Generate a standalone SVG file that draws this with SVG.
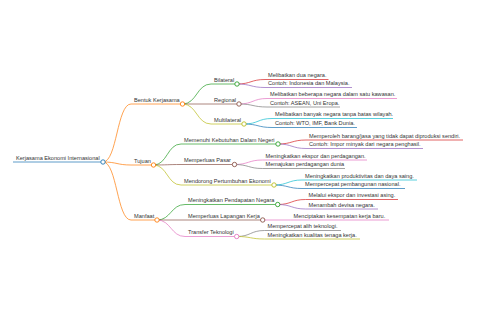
<svg xmlns="http://www.w3.org/2000/svg" width="480" height="320" viewBox="0 0 480 320">
<style>
text{font-family:"Liberation Sans",Arial,sans-serif;font-size:5.6px;fill:#333}
.l{fill:none;stroke-width:0.9;stroke-opacity:0.8}
.u{stroke-width:0.9;stroke-opacity:0.8}
circle{fill:#fff;stroke-width:0.9}
.c0{stroke:#1f77b4}.c1{stroke:#ff7f0e}.c2{stroke:#2ca02c}.c3{stroke:#d62728}.c4{stroke:#9467bd}
.c5{stroke:#8c564b}.c6{stroke:#e377c2}.c7{stroke:#7f7f7f}.c8{stroke:#bcbd22}.c9{stroke:#17becf}
</style>
<rect width="480" height="320" fill="#fff"/>
<g id="connectors">
<path class="l c1" d="M103,162 C117,162 117,104 131,104"/>
<path class="l c1" d="M103,162 C117,162 117,165 131,165"/>
<path class="l c1" d="M103,162 C117,162 117,220 131,220"/>
<path class="l c2" d="M182.5,104 C196.8,104 196.8,84 211,84"/>
<path class="l c5" d="M182.5,104 L211,104"/>
<path class="l c8" d="M182.5,104 C196.8,104 196.8,124 211,124"/>
<path class="l c3" d="M237,84 C251,84 251,79.5 265,79.5"/>
<path class="l c4" d="M237,84 C251,84 251,87.5 265,87.5"/>
<path class="l c6" d="M239,104 C253,104 253,98.5 267,98.5"/>
<path class="l c7" d="M239,104 C253,104 253,107 267,107"/>
<path class="l c9" d="M244,124 C258,124 258,118.5 272,118.5"/>
<path class="l c0" d="M244,124 C258,124 258,127.5 272,127.5"/>
<path class="l c2" d="M153.5,165 C167.3,165 167.3,144 181,144"/>
<path class="l c5" d="M153.5,165 C167.3,165 167.3,164.5 181,164.5"/>
<path class="l c8" d="M153.5,165 C167.3,165 167.3,185 181,185"/>
<path class="l c3" d="M278,144 C292,144 292,140 306,140"/>
<path class="l c4" d="M278,144 C292,144 292,148.5 306,148.5"/>
<path class="l c6" d="M234.5,164.5 C248.5,164.5 248.5,160 262.5,160"/>
<path class="l c7" d="M234.5,164.5 C248.5,164.5 248.5,168.5 262.5,168.5"/>
<path class="l c9" d="M274,185 C288,185 288,180 302,180"/>
<path class="l c0" d="M274,185 C288,185 288,188.5 302,188.5"/>
<path class="l c2" d="M157,220 C171,220 171,204.5 185,204.5"/>
<path class="l c5" d="M157,220 L185,220"/>
<path class="l c6" d="M157,220 C171,220 171,236.5 185,236.5"/>
<path class="l c3" d="M277.7,204.5 C291.6,204.5 291.6,199.5 305.5,199.5"/>
<path class="l c4" d="M277.7,204.5 C291.6,204.5 291.6,209 305.5,209"/>
<path class="l c6" d="M262.7,220 L290.5,220"/>
<path class="l c7" d="M236.7,236.5 C250.6,236.5 250.6,230.5 264.5,230.5"/>
<path class="l c8" d="M236.7,236.5 C250.6,236.5 250.6,239 264.5,239"/>
</g>
<g id="root"><line class="u c0" x1="13" y1="162" x2="103" y2="162" stroke-width="1.2"/><text x="16" y="159.7">Kerjasama Ekonomi Internasional</text><circle class="c0" cx="103" cy="162" r="2.2"/></g>
<g id="bentuk"><line class="u c1" x1="131" y1="104" x2="182.5" y2="104"/><text x="134" y="101.7">Bentuk Kerjasama</text><circle class="c1" cx="182.5" cy="104" r="2.2"/></g>
<g id="bilateral"><line class="u c2" x1="211" y1="84" x2="237" y2="84"/><text x="214" y="81.7">Bilateral</text><circle class="c2" cx="237" cy="84" r="2.2"/></g>
<g id="bil1"><line class="u c3" x1="265" y1="79.5" x2="328.5" y2="79.5"/><text x="268" y="77.2">Melibatkan dua negara.</text></g>
<g id="bil2"><line class="u c4" x1="265" y1="87.5" x2="352" y2="87.5"/><text x="268" y="85.2">Contoh: Indonesia dan Malaysia.</text></g>
<g id="regional"><line class="u c5" x1="211" y1="104" x2="239" y2="104"/><text x="214" y="101.7">Regional</text><circle class="c5" cx="239" cy="104" r="2.2"/></g>
<g id="reg1"><line class="u c6" x1="267" y1="98.5" x2="397" y2="98.5"/><text x="270" y="96.2">Melibatkan beberapa negara dalam satu kawasan.</text></g>
<g id="reg2"><line class="u c7" x1="267" y1="107" x2="340" y2="107"/><text x="270" y="104.7">Contoh: ASEAN, Uni Eropa.</text></g>
<g id="multilateral"><line class="u c8" x1="211" y1="124" x2="244" y2="124"/><text x="214" y="121.7">Multilateral</text><circle class="c8" cx="244" cy="124" r="2.2"/></g>
<g id="mul1"><line class="u c9" x1="272" y1="118.5" x2="393" y2="118.5"/><text x="275" y="116.2">Melibatkan banyak negara tanpa batas wilayah.</text></g>
<g id="mul2"><line class="u c0" x1="272" y1="127.5" x2="357" y2="127.5"/><text x="275" y="125.2">Contoh: WTO, IMF, Bank Dunia.</text></g>
<g id="tujuan"><line class="u c1" x1="131" y1="165" x2="153.5" y2="165"/><text x="134" y="162.7">Tujuan</text><circle class="c1" cx="153.5" cy="165" r="2.2"/></g>
<g id="memenuhi"><line class="u c2" x1="181" y1="144" x2="278" y2="144"/><text x="184" y="141.7">Memenuhi Kebutuhan Dalam Negeri</text><circle class="c2" cx="278" cy="144" r="2.2"/></g>
<g id="mem1"><line class="u c3" x1="306" y1="140" x2="463" y2="140"/><text x="309" y="137.7">Memperoleh barang/jasa yang tidak dapat diproduksi sendiri.</text></g>
<g id="mem2"><line class="u c4" x1="306" y1="148.5" x2="423" y2="148.5"/><text x="309" y="146.2">Contoh: Impor minyak dari negara penghasil.</text></g>
<g id="pasar"><line class="u c5" x1="181" y1="164.5" x2="234.5" y2="164.5"/><text x="184" y="162.2">Memperluas Pasar</text><circle class="c5" cx="234.5" cy="164.5" r="2.2"/></g>
<g id="pas1"><line class="u c6" x1="262.5" y1="160" x2="367" y2="160"/><text x="265.5" y="157.7">Meningkatkan ekspor dan perdagangan.</text></g>
<g id="pas2"><line class="u c7" x1="262.5" y1="168.5" x2="345" y2="168.5"/><text x="265.5" y="166.2">Memajukan perdagangan dunia</text></g>
<g id="mendorong"><line class="u c8" x1="181" y1="185" x2="274" y2="185"/><text x="184" y="182.7">Mendorong Pertumbuhan Ekonomi</text><circle class="c8" cx="274" cy="185" r="2.2"/></g>
<g id="men1"><line class="u c9" x1="302" y1="180" x2="417" y2="180"/><text x="305" y="177.7">Meningkatkan produktivitas dan daya saing.</text></g>
<g id="men2"><line class="u c0" x1="302" y1="188.5" x2="405" y2="188.5"/><text x="305" y="186.2">Mempercepat pembangunan nasional.</text></g>
<g id="manfaat"><line class="u c1" x1="131" y1="220" x2="157" y2="220"/><text x="134" y="217.7">Manfaat</text><circle class="c1" cx="157" cy="220" r="2.2"/></g>
<g id="pendapatan"><line class="u c2" x1="185" y1="204.5" x2="277.7" y2="204.5"/><text x="188" y="202.2">Meningkatkan Pendapatan Negara</text><circle class="c2" cx="277.7" cy="204.5" r="2.2"/></g>
<g id="pen1"><line class="u c3" x1="305.5" y1="199.5" x2="398" y2="199.5"/><text x="308.5" y="197.2">Melalui ekspor dan investasi asing.</text></g>
<g id="pen2"><line class="u c4" x1="305.5" y1="209" x2="378" y2="209"/><text x="308.5" y="206.7">Menambah devisa negara.</text></g>
<g id="lapangan"><line class="u c5" x1="185" y1="220" x2="262.7" y2="220"/><text x="188" y="217.7">Memperluas Lapangan Kerja</text><circle class="c5" cx="262.7" cy="220" r="2.2"/></g>
<g id="lap1"><line class="u c6" x1="290.5" y1="220" x2="389" y2="220"/><text x="293.5" y="217.7">Menciptakan kesempatan kerja baru.</text></g>
<g id="transfer"><line class="u c6" x1="185" y1="236.5" x2="236.7" y2="236.5"/><text x="188" y="234.2">Transfer Teknologi</text><circle class="c6" cx="236.7" cy="236.5" r="2.2"/></g>
<g id="tra1"><line class="u c7" x1="264.5" y1="230.5" x2="341" y2="230.5"/><text x="267.5" y="228.2">Mempercepat alih teknologi.</text></g>
<g id="tra2"><line class="u c8" x1="264.5" y1="239" x2="360" y2="239"/><text x="267.5" y="236.7">Meningkatkan kualitas tenaga kerja.</text></g>
</svg>
